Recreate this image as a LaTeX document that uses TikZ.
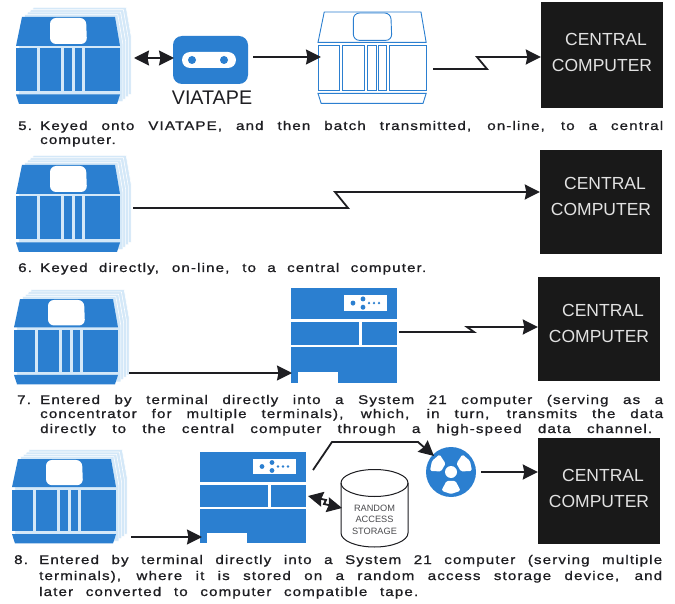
\documentclass[tikz,border=0pt]{standalone}
\usepackage{fontspec}
\setmainfont{Liberation Sans}
\newfontfamily\capfont[FakeStretch=1.2,LetterSpace=9,FakeBold=1]{Liberation Sans}
\usetikzlibrary{arrows.meta,calc}
\definecolor{hpblue}{HTML}{2B7FD0}
\definecolor{sheet}{HTML}{D4E8F8}
\definecolor{ink}{HTML}{1E1E22}
\definecolor{boxtext}{HTML}{E2E2E2}
\tikzset{
 conn/.style={draw=ink,line width=1.8pt,-{Stealth[length=15pt,width=15pt,inset=1.5pt]}},
 biconn/.style={draw=ink,line width=1.8pt,{Stealth[length=15pt,width=15pt,inset=1.5pt]}-{Stealth[length=15pt,width=15pt,inset=1.5pt]}},
 solidpart/.style={fill=hpblue,draw=none},
 linepart/.style={fill=white,draw=hpblue,line width=0.9pt},
 backsheet/.style={fill=sheet,draw=white,line width=0.6pt},
 blackbox/.style={fill=black!90!white,draw=none,minimum width=122pt,inner sep=0pt},
 boxlabel/.style={text=boxtext,font=\fontsize{17.5}{18}\selectfont,inner sep=0pt},
 captionline/.style={anchor=base west,inner sep=0pt,text=ink,font=\capfont\fontsize{12.6}{14}\selectfont},
}
\newcommand{\termparts}[1]{%
 \path[#1] (6,0)--(99,0)--(104,29)--(0,29)--cycle;
 \path[#1] (0,31.5) rectangle (20.5,74.5);
 \path[#1] (23.5,31.5) rectangle (45,74.5);
 \path[#1] (47.5,31.5) rectangle (56,74.5);
 \path[#1] (58.5,31.5) rectangle (66,74.5);
 \path[#1] (68.5,31.5) rectangle (104,74.5);
 \path[#1] (0,77.5)--(104,77.5)--(101,87)--(3,87)--cycle;
}
\newcommand{\termscreen}[1]{\path[#1,rounded corners=6pt] (34,1)--(70,1)--(71,27)--(34,27)--cycle;}
\newcommand{\stackedterm}[4]{%
 \begin{scope}[shift={(#1,#2)},xscale=#3,yscale=#4]
  \foreach \k in {4,3,2,1}{
   \path[backsheet,shift={(2.8*\k,-2.4*\k)}] (6,0)--(99,0)--(104,29)--(104,87)--(0,87)--(0,29)--cycle;
  }
  \termparts{solidpart}
  \termscreen{fill=white}
 \end{scope}}
\newcommand{\sysbox}[3]{%
 \begin{scope}[shift={(#1,#2)},yscale=#3]
  \path[solidpart] (0,0) rectangle (106,30);
  \path[solidpart] (0,32.5) rectangle (68,54.5);
  \path[solidpart] (71,32.5) rectangle (106,54.5);
  \path[solidpart] (0,57) rectangle (106,91);
  \path[fill=white] (53,7) rectangle (96,22);
  \foreach \px/\py/\pr in {62/14.5/2.4,72/10.5/2.4,72/18.5/2.4,78/14.5/1.3,83/14.5/1.3,88/14.5/1.3}
    \path[solidpart] (\px,\py) circle[radius=\pr];
  \path[fill=white] (7,81) rectangle (47,91);
 \end{scope}}
\newcommand{\capline}[4]{\node[captionline] at (#1,#2) {\makebox[#3pt][s]{#4}};}
\newcommand{\capnat}[3]{\node[captionline] at (#1,#2) {#3};}
\begin{document}
\begin{tikzpicture}[x=1pt,y=-1pt]
\useasboundingbox[fill=white] (0,0) rectangle (675,604);

% ---------- Row 5
\stackedterm{16}{17}{1}{1}
\path[solidpart,rounded corners=9pt] (173,36) rectangle (248,84);
\path[fill=white,rounded corners=8pt] (182,52) rectangle (236,68);
\path[solidpart] (192,60) circle[radius=4];
\path[solidpart] (224,60) circle[radius=4];
\node[inner sep=0pt,font=\fontsize{19.7}{20}\selectfont,text=ink] (viatape) at (212,98) {VIATAPE};
\begin{scope}[shift={(318,12)},xscale=1.04,yscale=1.05]
 \termparts{linepart}
 \termscreen{linepart}
\end{scope}
\node[blackbox,minimum height=106pt] (cc5) at (602,55) {};
\node[boxlabel] at (606,39) {CENTRAL};
\node[boxlabel] at (602,65) {COMPUTER};
\coordinate (a5) at (134,58);
\coordinate (b5) at (174,58);
\coordinate (c5) at (253,57);
\coordinate (d5) at (321,57);
\coordinate (e5) at (433,69);
\draw[biconn] (a5) -- (b5);
\draw[conn] (c5) -- (d5);
\draw[conn] (e5) -- (487,69) -- (477,57) -- (cc5.west |- 0,57);
\capnat{18}{130}{5.}
\capline{40}{130}{623}{Keyed onto VIATAPE, and then batch transmitted, on-line, to a central}
\capnat{40}{144}{computer.}

% ---------- Row 6
\stackedterm{16}{165}{1}{1}
\node[blackbox,minimum height=104pt] (cc6) at (601,202) {};
\node[boxlabel] at (605,183) {CENTRAL};
\node[boxlabel] at (601,209) {COMPUTER};
\coordinate (e6) at (133,208);
\draw[conn] (e6) -- (348,208) -- (335,192) -- (cc6.west |- 0,192);
\capnat{18}{272}{6.}
\capline{40}{272}{386}{Keyed directly, on-line, to a central computer.}

% ---------- Row 7
\stackedterm{14}{299}{1}{.98}
\sysbox{291}{288}{1.04}
\node[blackbox,minimum height=104pt] (cc7) at (599,329) {};
\node[boxlabel] at (603,310) {CENTRAL};
\node[boxlabel] at (599,336) {COMPUTER};
\coordinate (a7) at (129,373);
\coordinate (b7) at (292,373);
\coordinate (e7) at (399,332);
\draw[conn] (a7) -- (b7);
\draw[conn] (e7) -- (474,332) -- (467,327) -- (cc7.west |- 0,327);
\capnat{17}{404}{7.}
\capline{40}{404}{623}{Entered by terminal directly into a System 21 computer (serving as a}
\capline{40}{418}{623}{concentrator for multiple terminals), which, in turn, transmits the data}
\capline{40}{433}{612}{directly to the central computer through a high-speed data channel.}

% ---------- Row 8
\stackedterm{12}{459}{1}{.97}
\sysbox{200}{452}{1}
% storage cylinder
\path[fill=white,draw=ink,line width=1pt] (341,483) -- (341,533) arc[start angle=180,end angle=0,x radius=33.5,y radius=14] -- (408,483) arc[start angle=0,end angle=-180,x radius=33.5,y radius=13.5] -- cycle;
\draw[ink,line width=1pt] (341,483) arc[start angle=180,end angle=0,x radius=33.5,y radius=13.5];
\node[inner sep=0pt,align=center,text=ink!80,font=\fontsize{9.2}{11.5}\selectfont] (ras) at (374.5,519.5) {RANDOM\\ACCESS\\STORAGE};
% reel
\path[solidpart] (451,472) circle[radius=25];
\path[fill=white] (451,472) circle[radius=6];
\foreach \ang in {-30,-150,90}{
 \path[fill=white,rounded corners=1.5pt] ($(451,472)+({\ang-27}:{10})$) -- ($(451,472)+({\ang-27}:{21})$) -- ($(451,472)+({\ang}:{22})$) -- ($(451,472)+({\ang+27}:{21})$) -- ($(451,472)+({\ang+27}:{10})$) -- cycle;
}
\node[blackbox,minimum height=106pt] (cc8) at (599,491) {};
\node[boxlabel] at (603,475) {CENTRAL};
\node[boxlabel] at (599,501) {COMPUTER};
\coordinate (a8) at (131,537);
\coordinate (b8) at (202,537);
\coordinate (c8) at (313,470);
\coordinate (d8) at (434,456);
\coordinate (e8) at (308,496);
\coordinate (f8) at (342,508);
\coordinate (g8) at (481,472);
\draw[conn] (a8) -- (b8);
\draw[conn] (c8) -- (332,442) -- (418,442) -- (d8);
\draw[biconn] (e8) -- (326,500) -- (324,504) -- (f8);
\draw[conn] (g8) -- (cc8.west |- g8);
\capnat{14}{564}{8.}
\capline{39}{564}{623}{Entered by terminal directly into a System 21 computer (serving multiple}
\capline{39}{580}{623}{terminals), where it is stored on a random access storage device, and}
\capline{39}{596}{379}{later converted to computer compatible tape.}
\end{tikzpicture}
\end{document}
